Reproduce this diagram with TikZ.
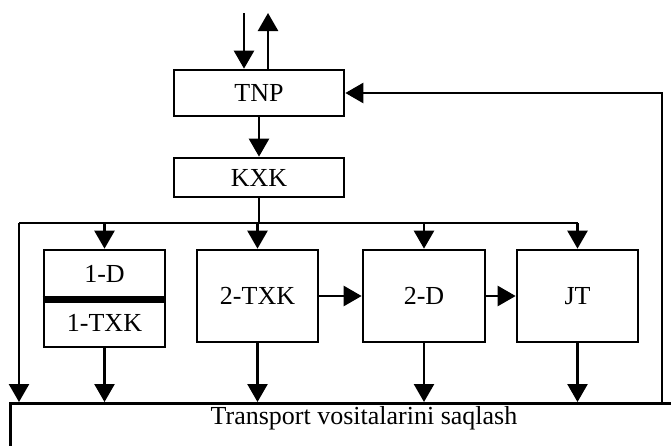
\documentclass[tikz,border=0pt]{standalone}
\usepackage{fontspec}
\setmainfont{Liberation Serif}
\usetikzlibrary{arrows.meta,calc}
\begin{document}
\begin{tikzpicture}[x=1pt,y=-1pt,
  box/.style={draw, line width=2.7pt, inner sep=0pt, font=\fontsize{26}{31}\selectfont},
  txt/.style={font=\fontsize{26}{31}\selectfont, inner sep=0pt},
  arr/.style={line width=2.5pt, -{Triangle[length=18pt,width=20pt]}},
  ln/.style={line width=2.5pt}]
\useasboundingbox (0,0) rectangle (671,445);
\clip (0,0) rectangle (671,445);
\fill[white] (0,0) rectangle (671,445);
% boxes
\node[box, minimum width=170pt, minimum height=46pt] (tnp) at (259,93) {TNP};
\node[box, minimum width=170pt, minimum height=39pt] (kxk) at (259,177.5) {KXK};
\node[box, minimum width=121pt, minimum height=48pt] (d1) at (104.5,274) {1-D};
\node[box, minimum width=121pt, minimum height=49pt] (tx1) at (104.5,322.5) {1-TXK};
\draw[line width=6.5pt] (d1.south west) -- (d1.south east);
\node[box, minimum width=121pt, minimum height=92pt] (tx2) at (257.5,296) {2-TXK};
\node[box, minimum width=122pt, minimum height=92pt] (d2) at (424,296) {2-D};
\node[box, minimum width=121pt, minimum height=92pt] (jt) at (577.5,296) {JT};
\node[draw, line width=2.7pt, anchor=north west, minimum width=700pt, minimum height=100pt, inner sep=0pt] (tr) at (9,402) {};
\node[txt] (trt) at (364,418) {Transport vositalarini saqlash};
% top in/out
\coordinate (in1) at (244,13);
\coordinate (out1) at (268,13);
\draw[arr] (in1) -- (in1 |- tnp.north);
\draw[arr] (out1 |- tnp.north) -- (out1);
\draw[arr] (tnp.south) -- (kxk.north);
% bus
\coordinate (busL) at (19,223);
\coordinate (busR) at (577.5,223);
\draw[ln] (kxk.south) -- (kxk.south |- busL);
\draw[ln] (busL) -- (busR);
\draw[arr] (busL -| d1.north) -- (d1.north);
\draw[arr] (busL -| tx2.north) -- (tx2.north);
\draw[arr] (busL -| d2.north) -- (d2.north);
\draw[arr] (busR) -- (jt.north);
\draw[arr] (busL) -- (busL |- tr.north);
% horizontal chain
\draw[arr] (tx2.east) -- (d2.west);
\draw[arr] (d2.east) -- (jt.west);
% down to storage
\draw[arr] (tx1.south) -- (tx1.south |- tr.north);
\draw[arr] (tx2.south) -- (tx2.south |- tr.north);
\draw[arr] (d2.south) -- (d2.south |- tr.north);
\draw[arr] (jt.south) -- (jt.south |- tr.north);
% feedback loop
\coordinate (rr) at (662,93);
\draw[arr] (rr |- tr.north) -- (rr) -- (tnp.east);
\end{tikzpicture}
\end{document}
